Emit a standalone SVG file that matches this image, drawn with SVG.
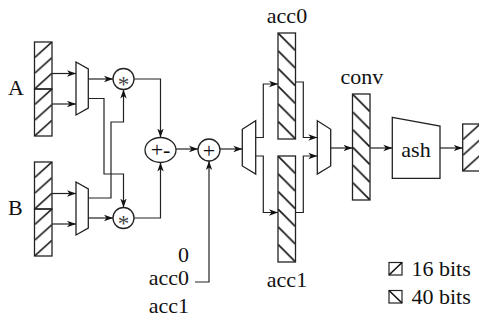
<svg xmlns="http://www.w3.org/2000/svg" xmlns:xlink="http://www.w3.org/1999/xlink" width="479" height="320" viewBox="0 0 479 320">
<style>
text{font-family:"Liberation Serif","Times New Roman",serif;font-size:22px;fill:#111}
.w{fill:none;stroke:#222;stroke-width:1.2}
.s{fill:#fff;stroke:#222;stroke-width:1.3}
.h{stroke:#111;stroke-width:1.6}
.m{text-anchor:middle}
.e{text-anchor:end}
.st{font-size:23px;fill:#444}
</style>
<defs>
<marker id="ar" markerWidth="10" markerHeight="8" refX="9" refY="4" orient="auto" markerUnits="userSpaceOnUse">
<path d="M0,0.8 L9,4 L0,7.2 L2.5,4 z" fill="#111"/>
</marker>
<pattern id="p16" patternUnits="userSpaceOnUse" width="17.5" height="15.67">
<line x1="-1" y1="16.6" x2="18.5" y2="-0.9" class="h"/>
</pattern>
<pattern id="p40" patternUnits="userSpaceOnUse" width="17.5" height="17.67">
<line x1="-1" y1="-1" x2="18.5" y2="18.67" class="h"/>
</pattern>
<g id="r16"><rect x="0" y="0" width="17.5" height="47" fill="url(#p16)"/><rect x="0" y="0" width="17.5" height="47" fill="none" stroke="#222" stroke-width="1.3"/></g>
<g id="r40"><rect x="0" y="0" width="17.5" height="106" fill="url(#p40)"/><rect x="0" y="0" width="17.5" height="106" fill="none" stroke="#222" stroke-width="1.3"/></g>
</defs>
<rect width="479" height="320" fill="#fff"/>

<g id="regA">
<use xlink:href="#r16" x="34.5" y="42"/>
<use xlink:href="#r16" x="34.5" y="89"/>
<text x="8" y="95">A</text>
</g>
<g id="regB">
<use xlink:href="#r16" x="34.5" y="162"/>
<use xlink:href="#r16" x="34.5" y="209"/>
<text x="8" y="215">B</text>
</g>
<g id="muxA"><polygon class="s" points="76,62 88.3,69 88.3,108 76,115"/></g>
<g id="muxB"><polygon class="s" points="76,182 88.3,189 88.3,228 76,235"/></g>
<g id="mul1"><circle class="s" cx="123.5" cy="79" r="10.5"/><text class="m st" x="123.5" y="91.5">*</text></g>
<g id="mul2"><circle class="s" cx="123.5" cy="218" r="10.5"/><text class="m st" x="123.5" y="230.5">*</text></g>
<g id="addsub"><ellipse class="s" cx="160.5" cy="150" rx="15.5" ry="12.5"/><text class="m" x="160.5" y="157">+-</text></g>
<g id="add"><circle class="s" cx="209" cy="150" r="11"/><text class="m" x="209" y="157.5">+</text></g>
<g id="srcsel">
<text class="e" x="189" y="262">0</text>
<text class="e" x="189" y="285">acc0</text>
<text class="e" x="189" y="313">acc1</text>
</g>
<g id="demux"><polygon class="s" points="242.3,129.3 255.7,120.7 255.7,174 242.3,166"/></g>
<g id="acc0"><use xlink:href="#r40" x="278" y="33"/><text class="m" x="287" y="23">acc0</text></g>
<g id="acc1"><use xlink:href="#r40" x="278" y="156"/><text class="m" x="287" y="287">acc1</text></g>
<g id="mux2"><polygon class="s" points="317.3,120.7 330.7,129.3 330.7,166 317.3,174"/></g>
<g id="conv"><use xlink:href="#r40" x="352.5" y="94"/><text class="m" x="362" y="84">conv</text></g>
<g id="ash"><polygon class="s" points="392.3,117.3 440,126 440,178.3 392.3,178.3"/><text class="m" x="416" y="157">ash</text></g>
<g id="out"><use xlink:href="#r16" x="462.7" y="124"/></g>
<g id="legend">
<rect x="389" y="262.5" width="13" height="12.5" fill="none" stroke="#222" stroke-width="1.2"/>
<line class="h" x1="389" y1="275" x2="402" y2="262.5"/>
<text x="411.5" y="276">16 bits</text>
<rect x="389" y="290.5" width="13" height="12.5" fill="none" stroke="#222" stroke-width="1.2"/>
<line class="h" x1="389" y1="290.5" x2="402" y2="303"/>
<text x="411.5" y="304">40 bits</text>
</g>

<g id="connectors" class="w">
<line x1="52" y1="73.5" x2="76" y2="73.5" marker-end="url(#ar)"/>
<line x1="52" y1="104" x2="76" y2="104" marker-end="url(#ar)"/>
<line x1="52" y1="193.5" x2="76" y2="193.5" marker-end="url(#ar)"/>
<line x1="52" y1="224" x2="76" y2="224" marker-end="url(#ar)"/>
<line x1="88.3" y1="79" x2="113" y2="79" marker-end="url(#ar)"/>
<line x1="88.3" y1="218" x2="113" y2="218" marker-end="url(#ar)"/>
<polyline points="88.3,98.5 104,98.5 104,174 123.5,174 123.5,207.5" marker-end="url(#ar)"/>
<polyline points="88.3,198 111,198 111,122 123.5,122 123.5,89.5" marker-end="url(#ar)"/>
<polyline points="134,79 160.5,79 160.5,137.5" marker-end="url(#ar)"/>
<polyline points="134,218 160.5,218 160.5,162.5" marker-end="url(#ar)"/>
<line x1="176" y1="149" x2="198" y2="149" marker-end="url(#ar)"/>
<polyline points="195,282 209,282 209,161" marker-end="url(#ar)"/>
<line x1="220" y1="149" x2="242.3" y2="149" marker-end="url(#ar)"/>
<polyline points="255.7,137.5 263.3,137.5 263.3,84 278,84" marker-end="url(#ar)"/>
<polyline points="255.7,156 263.3,156 263.3,212.5 278,212.5" marker-end="url(#ar)"/>
<polyline points="295.5,82 303.3,82 303.3,137.5 317.3,137.5" marker-end="url(#ar)"/>
<polyline points="295.5,212.5 303.3,212.5 303.3,156 317.3,156" marker-end="url(#ar)"/>
<line x1="330.7" y1="148" x2="352.5" y2="148" marker-end="url(#ar)"/>
<line x1="370" y1="148" x2="392.3" y2="148" marker-end="url(#ar)"/>
<line x1="440" y1="148" x2="462.7" y2="148" marker-end="url(#ar)"/>
</g>
</svg>
